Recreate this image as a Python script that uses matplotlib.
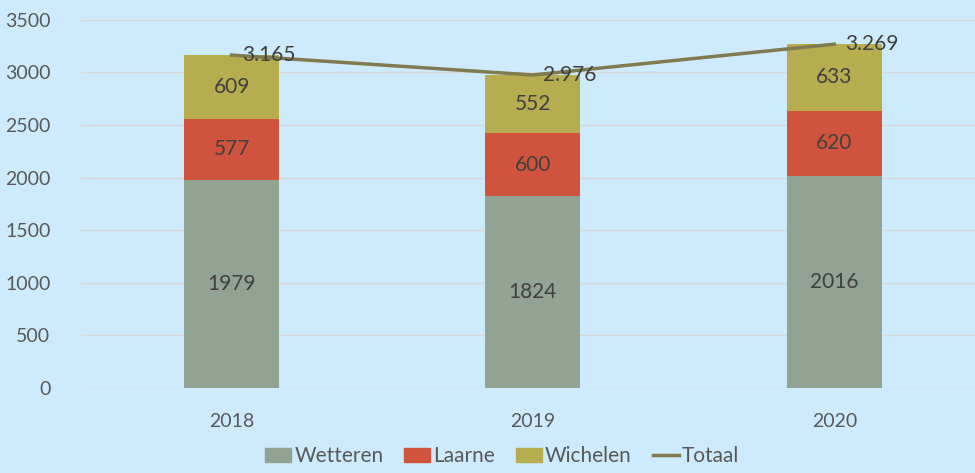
import numpy as np
import matplotlib.pyplot as plt
from matplotlib.patches import Patch
from matplotlib.lines import Line2D

plt.rcParams['font.family'] = ['Lato', 'DejaVu Sans']

years = ['2018', '2019', '2020']
wetteren = [1979, 1824, 2016]
laarne = [577, 600, 620]
wichelen = [609, 552, 633]
totaal = [3165, 2976, 3269]
totaal_labels = ['3.165', '2.976', '3.269']

bg = '#CDEBFC'
txt = '#595959'
c_wet = '#93A393'
c_laa = '#D0543D'
c_wic = '#B5AD50'
c_tot = '#7F7A4F'

fig = plt.figure(figsize=(9.75, 4.73), dpi=100, facecolor=bg)
ax = fig.add_axes([0.083, 0.18, 0.917, 0.778], facecolor=bg)

x = np.arange(len(years))
w = 0.315
ax.bar(x, wetteren, w, color=c_wet, zorder=2)
ax.bar(x, laarne, w, bottom=wetteren, color=c_laa, zorder=2)
bottom2 = np.array(wetteren) + np.array(laarne)
ax.bar(x, wichelen, w, bottom=bottom2, color=c_wic, zorder=2)
ax.plot(x, totaal, color=c_tot, lw=2.5, zorder=3)

fs = 15
for i in range(len(years)):
    ax.text(x[i], wetteren[i] / 2, str(wetteren[i]), ha='center', va='center',
            fontsize=fs, color='#404040', zorder=4)
    ax.text(x[i], wetteren[i] + laarne[i] / 2, str(laarne[i]), ha='center', va='center',
            fontsize=fs, color='#404040', zorder=4)
    ax.text(x[i], bottom2[i] + wichelen[i] / 2, str(wichelen[i]), ha='center', va='center',
            fontsize=fs, color='#404040', zorder=4)
    ax.text(x[i] + 0.035, totaal[i], totaal_labels[i], ha='left', va='center',
            fontsize=fs, color='#404040', zorder=4)

ax.set_ylim(0, 3500)
ax.set_yticks(range(0, 3501, 500))
ax.set_xlim(-0.5, 2.467)
ax.set_xticks(x)
ax.set_xticklabels(years)
ax.grid(axis='y', color='#D9D9D9', lw=1, zorder=0)
ax.tick_params(length=0, labelsize=14, colors=txt)
ax.tick_params(axis='x', pad=18)
ax.tick_params(axis='y', pad=22)
for s in ax.spines.values():
    s.set_visible(False)
ax.axhline(0, color='#D9D9D9', lw=1, zorder=1)

handles = [Patch(color=c_wet, label='Wetteren'),
           Patch(color=c_laa, label='Laarne'),
           Patch(color=c_wic, label='Wichelen'),
           Line2D([], [], color=c_tot, lw=2.5, label='Totaal')]
fig.legend(handles=handles, loc='lower center', bbox_to_anchor=(0.515, -0.025), ncol=4,
           frameon=False, fontsize=15, labelcolor=txt, handlelength=1.25,
           handleheight=0.65, handletextpad=0.15, columnspacing=1.0)

fig.savefig('out.png', dpi=100, facecolor=bg)
